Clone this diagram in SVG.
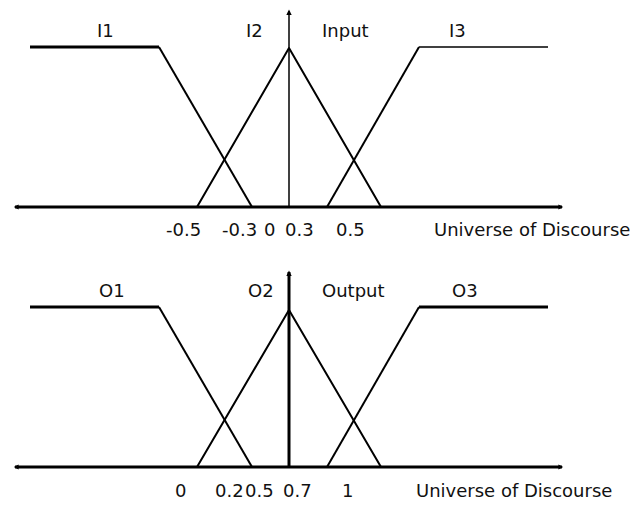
<svg xmlns="http://www.w3.org/2000/svg" width="632" height="505" viewBox="0 0 632 505">
<style>
.ax{stroke:#000;stroke-width:3;fill:none}
.mf{stroke:#000;stroke-width:2;fill:none;stroke-linejoin:round}
.thick{stroke:#000;stroke-width:3;fill:none}
.thin{stroke:#000;stroke-width:1.5;fill:none}
text{font-family:"DejaVu Sans","Liberation Sans",sans-serif;font-size:18px;fill:#111}
</style>
<defs>
<marker id="ah" viewBox="0 0 10 10" refX="6" refY="5" markerWidth="6" markerHeight="6" markerUnits="userSpaceOnUse" orient="auto-start-reverse">
<path d="M0,1 L8,5 L0,9 Z" fill="#000"/>
</marker>
<marker id="ahv" viewBox="0 0 10 10" refX="6" refY="5" markerWidth="7" markerHeight="7" markerUnits="userSpaceOnUse" orient="auto">
<path d="M0,1 L8,5 L0,9 Z" fill="#000"/>
</marker>
</defs>
<g id="connectors">
<line class="ax" x1="15" y1="207" x2="562" y2="207" marker-start="url(#ah)" marker-end="url(#ah)"/>
<line class="thin" x1="289" y1="207" x2="289" y2="11" marker-end="url(#ahv)"/>
<line class="ax" x1="15" y1="467" x2="562" y2="467" marker-start="url(#ah)" marker-end="url(#ah)"/>
<line class="thick" x1="289" y1="467" x2="289" y2="272" marker-end="url(#ahv)"/>
</g>
<g id="I1">
<line class="thick" x1="30" y1="47" x2="159" y2="47"/>
<line class="mf" x1="159" y1="47" x2="252" y2="207"/>
<text x="97" y="37">I1</text>
</g>
<g id="I2">
<polyline class="mf" points="197,207 289,48 381,207"/>
<text x="246" y="37">I2</text>
</g>
<g id="I3">
<line class="mf" x1="327" y1="207" x2="419" y2="47"/>
<line class="thin" x1="419" y1="47" x2="548" y2="47"/>
<text x="449" y="37">I3</text>
</g>
<g id="input-labels">
<text x="322" y="37">Input</text>
<text x="166" y="236">-0.5</text>
<text x="222" y="236">-0.3</text>
<text x="264" y="236">0</text>
<text x="285" y="236">0.3</text>
<text x="336" y="236">0.5</text>
<text x="434" y="236">Universe of Discourse</text>
</g>
<g id="O1">
<line class="thick" x1="30" y1="307" x2="159" y2="307"/>
<line class="mf" x1="159" y1="307" x2="252" y2="467"/>
<text x="99" y="297">O1</text>
</g>
<g id="O2">
<polyline class="mf" points="197,467 289,310 381,467"/>
<text x="248" y="297">O2</text>
</g>
<g id="O3">
<line class="mf" x1="327" y1="467" x2="419" y2="307"/>
<line class="thick" x1="419" y1="307" x2="548" y2="307"/>
<text x="452" y="297">O3</text>
</g>
<g id="output-labels">
<text x="322" y="297">Output</text>
<text x="175" y="497">0</text>
<text x="215" y="497">0.2</text>
<text x="245" y="497">0.5</text>
<text x="283" y="497">0.7</text>
<text x="342" y="497">1</text>
<text x="416" y="497">Universe of Discourse</text>
</g>
</svg>
